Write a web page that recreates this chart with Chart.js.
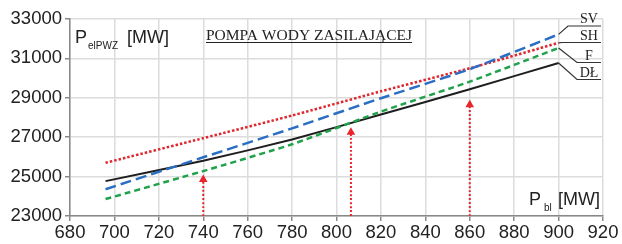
<!DOCTYPE html>
<html><head><meta charset="utf-8">
<script src="https://cdn.jsdelivr.net/npm/chart.js@4.4.1/dist/chart.umd.min.js"></script>
<style>html,body{margin:0;padding:0;background:#fff}#wrap{width:622px;height:244px}</style>
</head><body><div id="wrap"><canvas id="c" width="622" height="244"></canvas></div>
<script>
// ---- data ----
const loadMW = [696, 740, 780, 820, 860, 900];
const seriesSV = [24360, 25980, 27450, 28980, 30450, 32220];
const seriesSH = [25700, 26950, 28100, 29330, 30500, 31790];
const seriesF  = [23860, 25280, 26640, 28300, 29820, 31530];
const seriesDL = [24770, 25800, 26880, 28150, 29430, 30770];
const seriesNames = ['SV', 'SH', 'F', 'DŁ'];
const arrowX = [740, 806.5, 860];
const arrowHead = [24850, 27250, 28650];
const axisMin = 23000, axisMax = 33000;
const xMin = 680, xMax = 920;
const titleText = 'POMPA WODY ZASILAJĄCEJ';

const pts = arr => loadMW.map((x, i) => ({x, y: arr[i]}));
const datasets = [
  {label: seriesNames[0], data: pts(seriesSV), borderColor: '#2b6fc4', borderWidth: 2.5, borderDash: [11, 5], pointRadius: 0, fill: false},
  {label: seriesNames[1], data: pts(seriesSH), borderColor: '#e0262e', borderWidth: 2.5, borderDash: [2.5, 2], pointRadius: 0, fill: false},
  {label: seriesNames[2], data: pts(seriesF), borderColor: '#1fa24a', borderWidth: 2.5, borderDash: [6, 4], pointRadius: 0, fill: false},
  {label: seriesNames[3], data: pts(seriesDL), borderColor: '#1e1e1e', borderWidth: 2, pointRadius: 0, fill: false},
];
arrowX.forEach((ax, i) => {
  datasets.push({label: 'arrow' + i, data: [{x: ax, y: axisMin}, {x: ax, y: arrowHead[i]}],
    borderColor: '#e8252d', backgroundColor: '#e8252d', borderWidth: 2, borderDash: [2, 2],
    pointStyle: 'triangle', pointRadius: [0, 5], pointBorderWidth: 0, pointBackgroundColor: '#e8252d'});
});

const labelPlugin = {
  id: 'labels',
  afterDraw(chart) {
    const ctx = chart.ctx;
    ctx.save();
    // Title
    ctx.fillStyle = '#222';
    ctx.font = '15.5px "Liberation Serif"';
    ctx.textBaseline = 'alphabetic';
    const tw = ctx.measureText(titleText).width;
    const tx = 206, ty = 40;
    ctx.fillText(titleText, tx, ty);
    ctx.strokeStyle = '#222'; ctx.lineWidth = 1;
    ctx.beginPath(); ctx.moveTo(tx, ty + 2.5); ctx.lineTo(tx + tw, ty + 2.5); ctx.stroke();
    // Y axis title
    ctx.fillStyle = '#222';
    ctx.font = '18px "Liberation Sans"';
    ctx.fillText('P', 75, 43);
    ctx.font = '10px "Liberation Sans"';
    ctx.fillText('elPWZ', 88, 49);
    ctx.font = '18px "Liberation Sans"';
    ctx.fillText('[MW]', 127, 43);
    // X axis title
    ctx.font = '18px "Liberation Sans"';
    ctx.fillText('P', 529, 205);
    ctx.font = '10px "Liberation Sans"';
    ctx.fillText('bl', 544, 211);
    ctx.font = '18px "Liberation Sans"';
    ctx.fillText('[MW]', 558, 205);
    // series labels with leaders
    const ulY = [26, 42.5, 62.5, 79.5];
    const ulX0 = [568, 562, 577, 577];
    const ulX1 = 601;
    ctx.font = '14px "Liberation Serif"';
    ctx.textAlign = 'center';
    ctx.strokeStyle = '#333'; ctx.lineWidth = 1.2;
    for (let i = 0; i < 4; i++) {
      const meta = chart.getDatasetMeta(i);
      const p = meta.data[meta.data.length - 1];
      ctx.beginPath();
      ctx.moveTo(p.x, p.y);
      ctx.lineTo(ulX0[i], ulY[i]);
      ctx.lineTo(ulX1, ulY[i]);
      ctx.stroke();
      ctx.fillText(seriesNames[i], 589, ulY[i] - 3);
    }
    ctx.restore();
  }
};

new Chart(document.getElementById('c'), {
  type: 'line',
  data: {datasets},
  options: {
    responsive: false, animation: false, devicePixelRatio: 1,
    layout: {padding: {top: 19, right: 19, left: 0, bottom: 0}},
    plugins: {legend: {display: false}, tooltip: {enabled: false}},
    elements: {line: {tension: 0.15}},
    scales: {
      x: {type: 'linear', min: xMin, max: xMax,
        afterFit(s) { s.height = 28; },
        ticks: {stepSize: 20, color: '#222', font: {family: 'Liberation Sans', size: 18.5}, padding: 1, maxRotation: 0,
          callback: v => String(v)},
        grid: {color: '#dcdcdc', lineWidth: 1.5, tickLength: 5, tickColor: '#888'},
        border: {color: '#888', width: 1.5}},
      y: {min: axisMin, max: axisMax,
        afterFit(s) { s.width = 70; },
        ticks: {stepSize: 2000, color: '#222', font: {family: 'Liberation Sans', size: 18.5}, padding: 3,
          callback: v => String(v)},
        grid: {color: '#dcdcdc', lineWidth: 1.5, tickLength: 5, tickColor: '#888'},
        border: {color: '#888', width: 1.5}}
    }
  },
  plugins: [labelPlugin]
});
</script></body></html>
